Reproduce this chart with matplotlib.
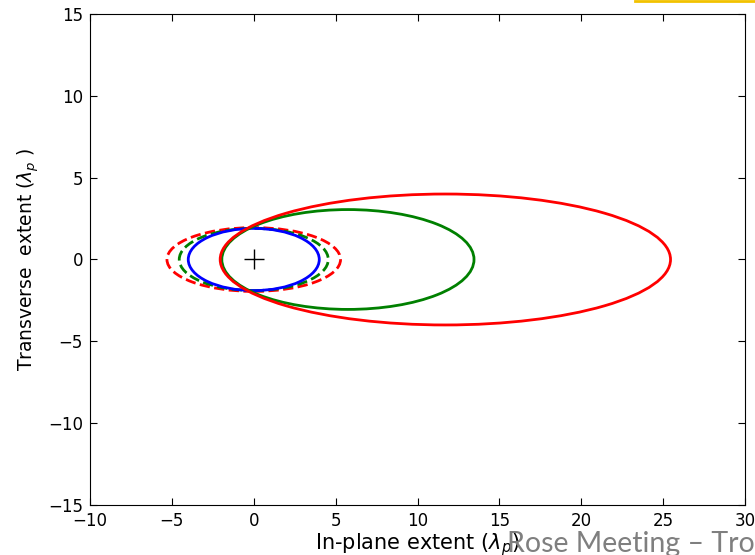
import numpy as np
import matplotlib
matplotlib.use('Agg')
import matplotlib.pyplot as plt
from matplotlib.patches import Ellipse
from matplotlib.lines import Line2D

# ellipse data: centre x, centre y, semi-axis x, semi-axis y (units of lambda_p)
labels = ['blue', 'green_dash', 'red_dash', 'green', 'red']
centre_x = [0.0, 0.0, 0.0, 5.75, 11.7]
centre_y = [0.0, 0.0, 0.0, 0.0, 0.0]
semi_x = [4.0, 4.55, 5.3, 7.7, 13.75]
semi_y = [1.9, 1.9, 1.95, 3.05, 4.0]
colors = ['b', 'g', 'r', 'g', 'r']
styles = ['-', '--', '--', '-', '-']

xticks = [-10, -5, 0, 5, 10, 15, 20, 25, 30]
yticks = [-15, -10, -5, 0, 5, 10, 15]

fig = plt.figure(figsize=(7.55, 5.55), dpi=100)
ax = fig.add_axes([0.1192, 0.0901, 0.8676, 0.8847])

# draw dashed ones first so the solid ones sit on top
order = [2, 1, 0, 3, 4]
for i in order:
    e = Ellipse((centre_x[i], centre_y[i]), 2 * semi_x[i], 2 * semi_y[i],
                fill=False, edgecolor=colors[i], linestyle=styles[i], linewidth=2)
    ax.add_patch(e)

ax.plot([0], [0], marker='+', color='k', markersize=15, markeredgewidth=1)

ax.set_xlim(-10, 30)
ax.set_ylim(-15, 15)
ax.set_xticks(xticks)
ax.set_yticks(yticks)
ax.tick_params(direction='in', top=True, right=True, labelsize=12, length=5, pad=5)
ax.set_xlabel(r'In-plane extent ($\lambda_p$)', fontsize=15, labelpad=1)
ax.set_ylabel(r'Transverse  extent ($\lambda_p$ )', fontsize=13.5, labelpad=5)

# slide overlay bits
fig.text(0.672, 0.0054, 'Rose Meeting \u2013 Tro', fontsize=20.5, color='#7f7f7f',
         family='Lato', ha='left', va='baseline')
fig.add_artist(Line2D([0.841, 1.0], [0.999, 0.999], color='#f2c200', linewidth=2,
                      transform=fig.transFigure))

fig.savefig('out.png', dpi=100)
